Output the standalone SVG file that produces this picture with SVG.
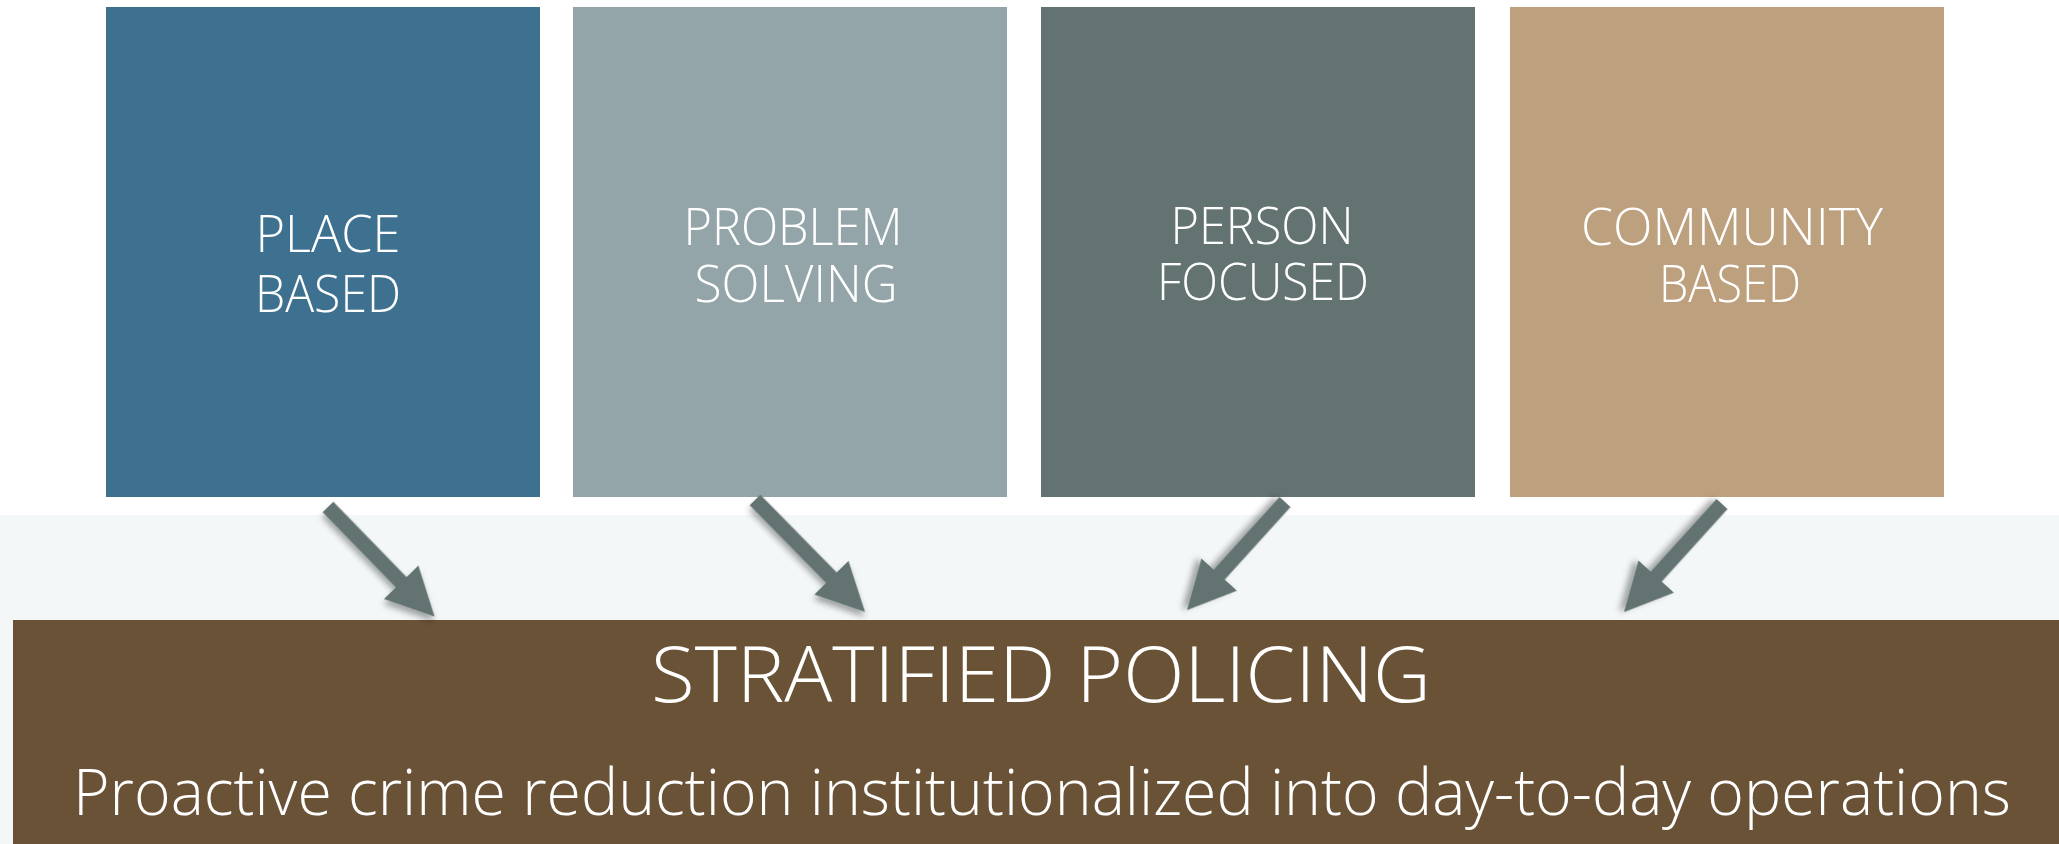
<svg xmlns="http://www.w3.org/2000/svg" width="2059" height="844" viewBox="0 0 2059 844">
  <style>
    .lbl { font-family: "Open Sans", "Segoe UI", "Liberation Sans", sans-serif; font-weight: 300; font-size: 52px; fill: #ffffff; text-anchor: middle; }
    .title { font-family: "Open Sans", "Segoe UI", "Liberation Sans", sans-serif; font-weight: 300; font-size: 78px; fill: #ffffff; text-anchor: middle; }
    .sub { font-family: "Open Sans", "Segoe UI", "Liberation Sans", sans-serif; font-weight: 300; font-size: 64px; fill: #ffffff; text-anchor: middle; }
    .arrow { fill: #627372; filter: url(#shadow); }
  </style>
  <defs>
    <filter id="shadow" x="-30%" y="-30%" width="160%" height="160%">
      <feDropShadow dx="3" dy="4" stdDeviation="3" flood-color="#000000" flood-opacity="0.35"/>
    </filter>
  </defs>
  <rect x="0" y="0" width="2059" height="844" fill="#ffffff"/>
  <rect x="0" y="515" width="2059" height="329" fill="#f3f7f8"/>

  <g id="node-place">
    <rect x="106" y="7" width="434" height="490" fill="#3e7190"/>
    <text class="lbl" x="328" y="252" textLength="145" lengthAdjust="spacingAndGlyphs">PLACE</text>
    <text class="lbl" x="328" y="312" textLength="146" lengthAdjust="spacingAndGlyphs">BASED</text>
  </g>
  <g id="node-problem">
    <rect x="573" y="7" width="434" height="490" fill="#93a5a8"/>
    <text class="lbl" x="793" y="245" textLength="219" lengthAdjust="spacingAndGlyphs">PROBLEM</text>
    <text class="lbl" x="796" y="302" textLength="203" lengthAdjust="spacingAndGlyphs">SOLVING</text>
  </g>
  <g id="node-person">
    <rect x="1041" y="7" width="434" height="490" fill="#627372"/>
    <text class="lbl" x="1262" y="244" textLength="183" lengthAdjust="spacingAndGlyphs">PERSON</text>
    <text class="lbl" x="1263" y="300" textLength="212" lengthAdjust="spacingAndGlyphs">FOCUSED</text>
  </g>
  <g id="node-community">
    <rect x="1510" y="7" width="434" height="490" fill="#bda07d"/>
    <text class="lbl" x="1732" y="245" textLength="302" lengthAdjust="spacingAndGlyphs">COMMUNITY</text>
    <text class="lbl" x="1730" y="302" textLength="142" lengthAdjust="spacingAndGlyphs">BASED</text>
  </g>

  <g id="node-stratified">
    <rect x="13" y="620" width="2046" height="224" fill="#6a5236"/>
    <text class="title" x="1041" y="702" textLength="780" lengthAdjust="spacingAndGlyphs">STRATIFIED POLICING</text>
    <text class="sub" x="1042" y="815" textLength="1938" lengthAdjust="spacingAndGlyphs">Proactive crime reduction institutionalized into day-to-day operations</text>
  </g>

  <g id="connectors">
    <path class="arrow" transform="translate(328,507) rotate(45.8)" d="M0,-7.5 L105,-7.5 L105,-24 L153,0 L105,24 L105,7.5 L0,7.5 Z"/>
    <path class="arrow" transform="translate(755,500) rotate(45.5)" d="M0,-7.5 L109,-7.5 L109,-24 L157,0 L109,24 L109,7.5 L0,7.5 Z"/>
    <path class="arrow" transform="translate(1285,502) rotate(132.2)" d="M0,-7.5 L98,-7.5 L98,-24 L146,0 L98,24 L98,7.5 L0,7.5 Z"/>
    <path class="arrow" transform="translate(1722,504) rotate(132.2)" d="M0,-7.5 L98,-7.5 L98,-24 L146,0 L98,24 L98,7.5 L0,7.5 Z"/>
  </g>
</svg>
